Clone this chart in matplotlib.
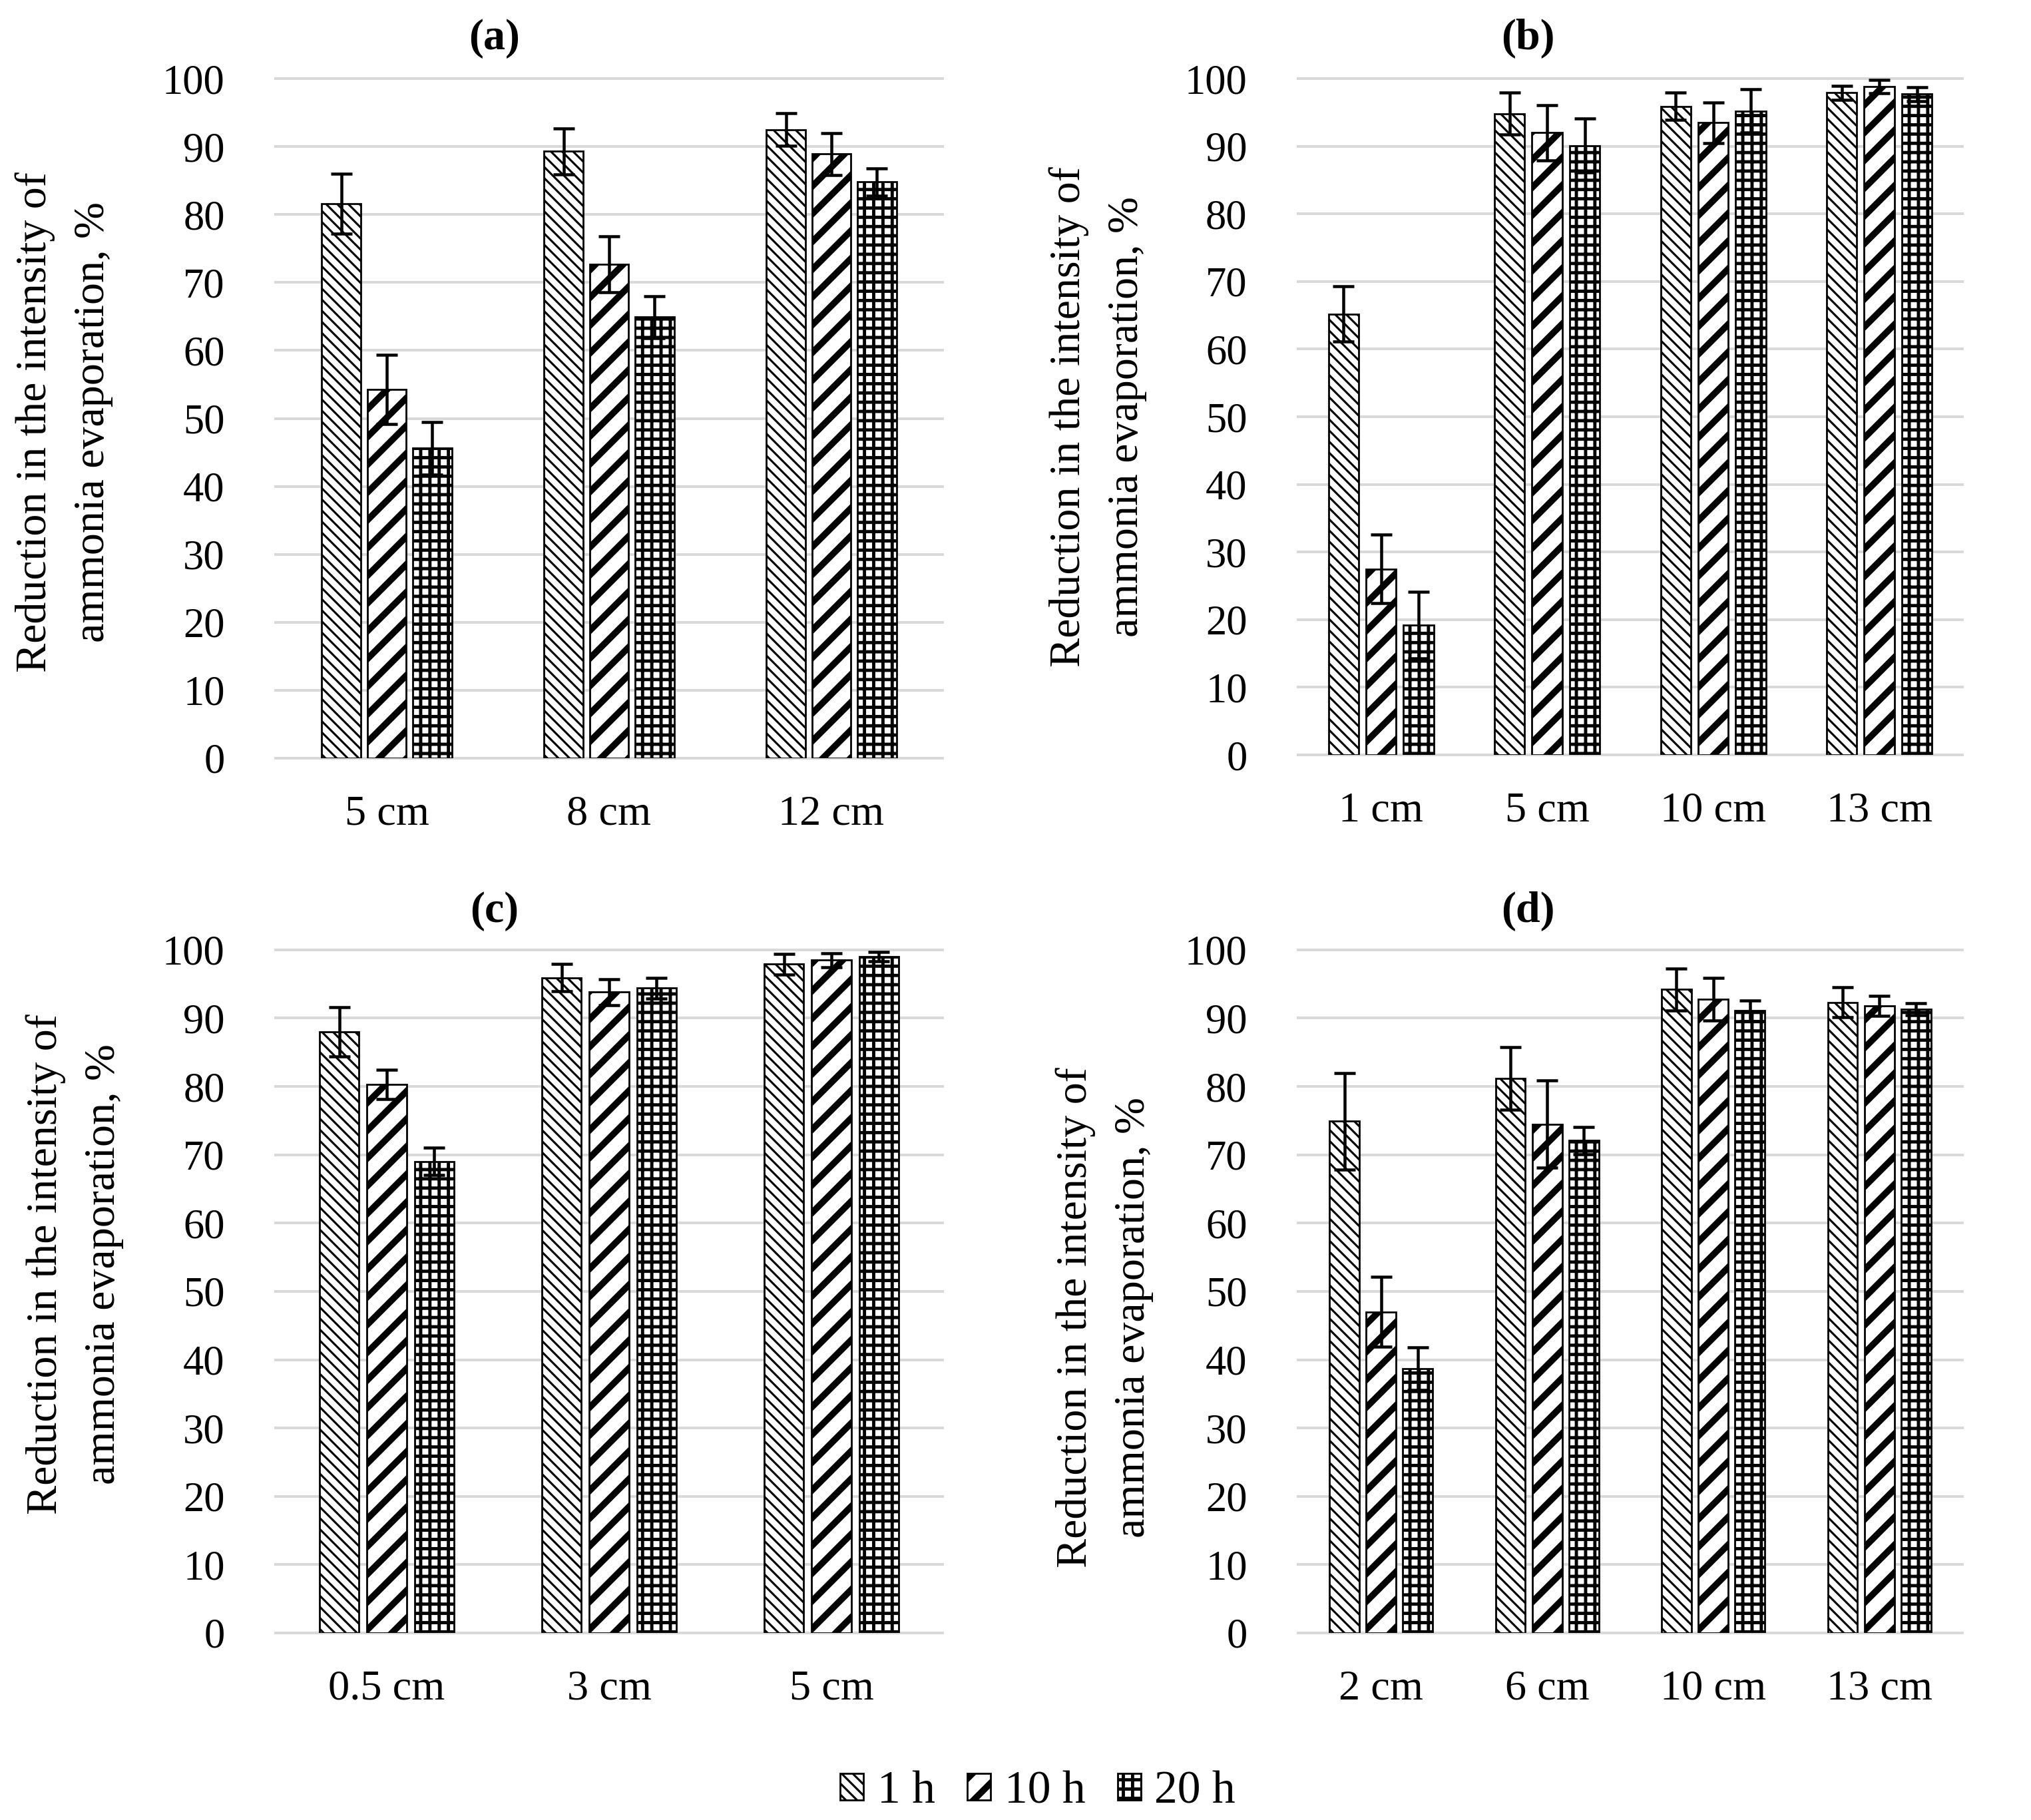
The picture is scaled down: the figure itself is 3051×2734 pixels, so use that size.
import matplotlib
matplotlib.use('Agg')
import matplotlib.pyplot as plt
import numpy as np

plt.rcParams['font.family'] = ['Liberation Serif', 'DejaVu Serif']

# ---- data ----
series_names = ['1 h', '10 h', '20 h']

cats_a = ['5 cm', '8 cm', '12 cm']
a_1h = [81.6, 89.3, 92.5]
a_1h_err = [4.4, 3.4, 2.4]
a_10h = [54.3, 72.7, 88.9]
a_10h_err = [5.1, 4.1, 3.1]
a_20h = [45.6, 64.9, 84.8]
a_20h_err = [3.9, 3.1, 2.0]

cats_b = ['1 cm', '5 cm', '10 cm', '13 cm']
b_1h = [65.2, 94.8, 95.9, 97.9]
b_1h_err = [4.1, 3.1, 2.0, 1.0]
b_10h = [27.5, 92.0, 93.5, 98.8]
b_10h_err = [5.1, 4.1, 3.0, 1.0]
b_20h = [19.2, 90.1, 95.2, 97.7]
b_20h_err = [4.9, 4.0, 3.2, 1.0]

cats_c = ['0.5 cm', '3 cm', '5 cm']
c_1h = [88.0, 95.9, 97.9]
c_1h_err = [3.6, 2.0, 1.5]
c_10h = [80.3, 93.8, 98.5]
c_10h_err = [2.1, 1.9, 1.0]
c_20h = [69.0, 94.4, 99.0]
c_20h_err = [2.0, 1.5, 0.7]

cats_d = ['2 cm', '6 cm', '10 cm', '13 cm']
d_1h = [74.9, 81.2, 94.2, 92.3]
d_1h_err = [7.1, 4.6, 3.1, 2.2]
d_10h = [47.0, 74.5, 92.8, 91.8]
d_10h_err = [5.1, 6.4, 3.1, 1.5]
d_20h = [38.7, 72.1, 91.1, 91.3]
d_20h_err = [3.1, 2.0, 1.5, 0.9]

y_ticks = list(range(0, 101, 10))
ylabel = 'Reduction in the intensity of\nammonia evaporation, %'

# ---- styles ----
hatches = ['\\' * 5, '//', '+++']
hatch_lws = [0.9, 2.8, 1.4]
GRID = '#d9d9d9'
W, H = 3051, 2734

fig = plt.figure(figsize=(W / 250, H / 250), dpi=250)

# title, cats, values, errors, axes rect, ylabel pos (axes coords), (bar width, bar step), title pos (px)
panels = [
    ('(a)', cats_a, [a_1h, a_10h, a_20h], [a_1h_err, a_10h_err, a_20h_err],
     [0.1357, 0.5834, 0.3284, 0.3734], (-0.317, 0.495), (0.176, 0.205), (743, 58)),
    ('(b)', cats_b, [b_1h, b_10h, b_20h], [b_1h_err, b_10h_err, b_20h_err],
     [0.6391, 0.5852, 0.3271, 0.3716], (-0.301, 0.50), (0.182, 0.226), (2295, 58)),
    ('(c)', cats_c, [c_1h, c_10h, c_20h], [c_1h_err, c_10h_err, c_20h_err],
     [0.1357, 0.1028, 0.3284, 0.3753], (-0.301, 0.54), (0.179, 0.214), (743, 1369)),
    ('(d)', cats_d, [d_1h, d_10h, d_20h], [d_1h_err, d_10h_err, d_20h_err],
     [0.6391, 0.1028, 0.3271, 0.3753], (-0.291, 0.462), (0.180, 0.221), (2295, 1369)),
]

bars_for_legend = []
for title, cats, vals, errs, rect, lab_xy, (bw, step), title_px in panels:
    ax = fig.add_axes(rect)
    x = np.arange(len(cats))
    for i, (v, e) in enumerate(zip(vals, errs)):
        pos = x + (i - 1) * step
        with plt.rc_context({'hatch.linewidth': hatch_lws[i]}):
            bars = ax.bar(pos, v, width=bw, color='white', edgecolor='black',
                          linewidth=0.8, hatch=hatches[i], label=series_names[i], zorder=2)
        for b in bars:
            if hasattr(b, 'set_hatch_linewidth'):
                b.set_hatch_linewidth(hatch_lws[i])
        ax.errorbar(pos, v, yerr=e, fmt='none', ecolor='black', elinewidth=1.3,
                    capsize=4.6, capthick=1.3, zorder=3)
        if title == '(a)':
            bars_for_legend.append(bars)

    ax.set_xlim(-0.5, len(cats) - 0.5)
    ax.set_ylim(0, 100)
    ax.set_yticks(y_ticks)
    ax.set_xticks(x)
    ax.set_xticklabels(cats, fontsize=18.5)
    ax.tick_params(axis='y', length=0, pad=22, labelsize=18)
    ax.tick_params(axis='x', length=0, pad=16)
    for s in ax.spines.values():
        s.set_visible(False)
    ax.set_axisbelow(True)
    ax.yaxis.grid(True, color=GRID, linewidth=1.15)
    for gl in ax.get_ygridlines():
        gl.set_clip_on(False)

    ax.text(lab_xy[0], lab_xy[1], ylabel, transform=ax.transAxes, rotation=90,
            ha='center', va='center', rotation_mode='anchor', multialignment='center',
            fontsize=19, linespacing=1.6)
    fig.text(title_px[0] / W, 1 - title_px[1] / H, title, ha='center', va='center',
             fontsize=19, fontweight='bold')

leg = fig.legend(handles=bars_for_legend, labels=series_names, loc='center',
                 bbox_to_anchor=(0.511, 0.0155), ncol=3, frameon=False, fontsize=20,
                 handlelength=0.5, handleheight=0.5, handletextpad=0.3, columnspacing=0.7)
for i, h in enumerate(leg.legend_handles):
    if hasattr(h, 'set_hatch_linewidth'):
        h.set_hatch_linewidth(hatch_lws[i])

fig.savefig('out.png', dpi=250, facecolor='white')
